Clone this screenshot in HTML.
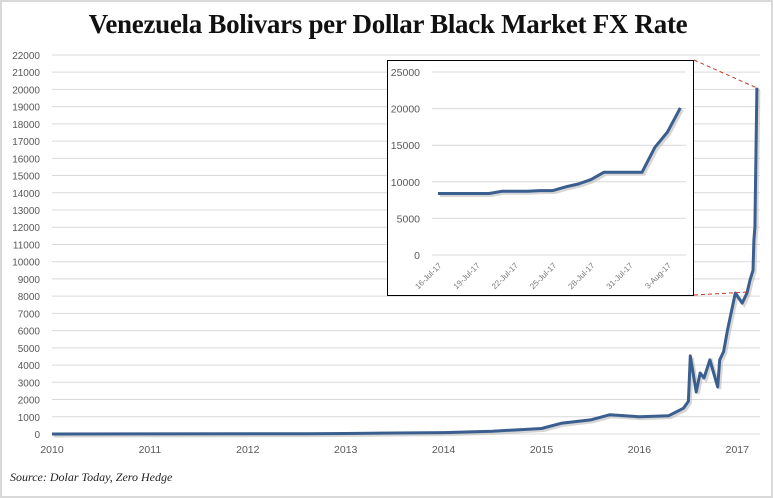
<!DOCTYPE html>
<html><head><meta charset="utf-8"><style>
html,body{margin:0;padding:0;background:#fff;}
body{width:773px;height:498px;overflow:hidden;}
svg{display:block;font-family:"Liberation Sans",sans-serif;}
</style></head><body>
<svg id="c" width="773" height="498" viewBox="0 0 773 498">
<rect x="1" y="1" width="771" height="496" fill="#fff" stroke="#d9d9d9" stroke-width="2"/>
<text x="388" y="33" text-anchor="middle" font-family="Liberation Serif,serif" font-weight="bold" font-size="27" letter-spacing="-0.3" fill="#111">Venezuela Bolivars per Dollar Black Market FX Rate</text>
<text x="10" y="481" font-family="Liberation Serif,serif" font-style="italic" font-size="12" fill="#222">Source: Dolar Today, Zero Hedge</text>
<g id="main"></g>
<g id="inset"></g>
</svg>
<script>
// main chart data
const yTicks=[0,1000,2000,3000,4000,5000,6000,7000,8000,9000,10000,11000,12000,13000,14000,15000,16000,17000,18000,19000,20000,21000,22000];
const years=[2010,2011,2012,2013,2014,2015,2016,2017];
const tDates=[2010,2012.6,2013.0,2013.5,2014.0,2014.5,2015.0,2015.2,2015.5,2015.7,2016.0,2016.3,2016.45,2016.5,2016.52,2016.58,2016.62,2016.66,2016.72,2016.8,2016.82,2016.86,2016.9,2016.98,2017.05,2017.1,2017.13,2017.16,2017.17,2017.18,2017.2];
const tValues=[0,15,30,60,80,160,320,620,820,1120,1000,1060,1500,1900,4530,2440,3540,3250,4300,2730,4300,4780,6030,8180,7600,8200,8940,9500,11260,12000,20100];
// inset data
const insetCats=['16-Jul-17','17-Jul-17','18-Jul-17','19-Jul-17','20-Jul-17','21-Jul-17','22-Jul-17','23-Jul-17','24-Jul-17','25-Jul-17','26-Jul-17','27-Jul-17','28-Jul-17','29-Jul-17','30-Jul-17','31-Jul-17','1-Aug-17','2-Aug-17','3-Aug-17','4-Aug-17'];
const insetValues=[8400,8400,8400,8400,8400,8700,8700,8700,8800,8800,9300,9700,10300,11300,11300,11300,11300,14700,16800,20100];
const insetTicks=[0,5000,10000,15000,20000,25000];

const NS='http://www.w3.org/2000/svg';
function mk(p,tag,a){const e=document.createElementNS(NS,tag);for(const k in a)e.setAttribute(k,a[k]);p.appendChild(e);return e;}
const main=document.getElementById('main');
const X=t=>52+(t-2010)*97.9;
const Y=v=>434-v*0.01723;
yTicks.forEach(v=>{
  const l=mk(main,'line',{x1:52,x2:760,y1:Y(v),y2:Y(v),stroke:'#d9d9d9','stroke-width':1});
  
  
  const t=mk(main,'text',{x:40,y:Y(v)+4,'text-anchor':'end','font-size':10,fill:'#595959'});
  t.textContent=v;
  
  
});
years.forEach(y=>{
  const t=mk(main,'text',{x:X(y),y:453,'text-anchor':'middle','font-size':10.5,fill:'#595959'});
  t.textContent=y;
  
  
});
const pts=tDates.map((d,i)=>X(d).toFixed(1)+','+Y(tValues[i]).toFixed(1)).join(' ');
const sh=mk(main,'polyline',{points:pts,fill:'none',stroke:'#bbb','stroke-width':3,transform:'translate(2,2)',opacity:0.6});


const ln=mk(main,'polyline',{points:pts,fill:'none',stroke:'#3a5f8f','stroke-width':3,'stroke-linejoin':'round'});



// inset
const ins=document.getElementById('inset');
const bx=mk(ins,'rect',{x:387.5,y:60.5,width:306,height:235,fill:'#fff',stroke:'#000','stroke-width':1});


const d1=mk(ins,'line',{x1:694,y1:60,x2:757,y2:88,stroke:'#c0392b','stroke-dasharray':'4,3'});


const d2=mk(ins,'line',{x1:694,y1:295,x2:748,y2:292,stroke:'#c0392b','stroke-dasharray':'4,3'});


const IX=i=>438+i*12.75;
const IY=v=>255-v*0.00732;
insetTicks.forEach(v=>{
  const l=mk(ins,'line',{x1:432,x2:686,y1:IY(v),y2:IY(v),stroke:'#d9d9d9','stroke-width':1});
  
  
  const t=mk(ins,'text',{x:420,y:IY(v)+4,'text-anchor':'end','font-size':10.5,fill:'#595959'});
  t.textContent=v;
  
  
});
insetCats.forEach((c,i)=>{
  if(i%3!==0)return;
  const t=mk(ins,'text',{x:IX(i)+4,y:266,'text-anchor':'end','font-size':8,fill:'#777',transform:'rotate(-45 '+(IX(i)+4)+' 266)'});
  t.textContent=c;
  
  
});
const ip=insetValues.map((v,i)=>IX(i).toFixed(1)+','+IY(v).toFixed(1)).join(' ');
const is=mk(ins,'polyline',{points:ip,fill:'none',stroke:'#bbb','stroke-width':3,transform:'translate(2,2)',opacity:0.6});


const il=mk(ins,'polyline',{points:ip,fill:'none',stroke:'#3a5f8f','stroke-width':3,'stroke-linejoin':'round'});


</script>
</body></html>
